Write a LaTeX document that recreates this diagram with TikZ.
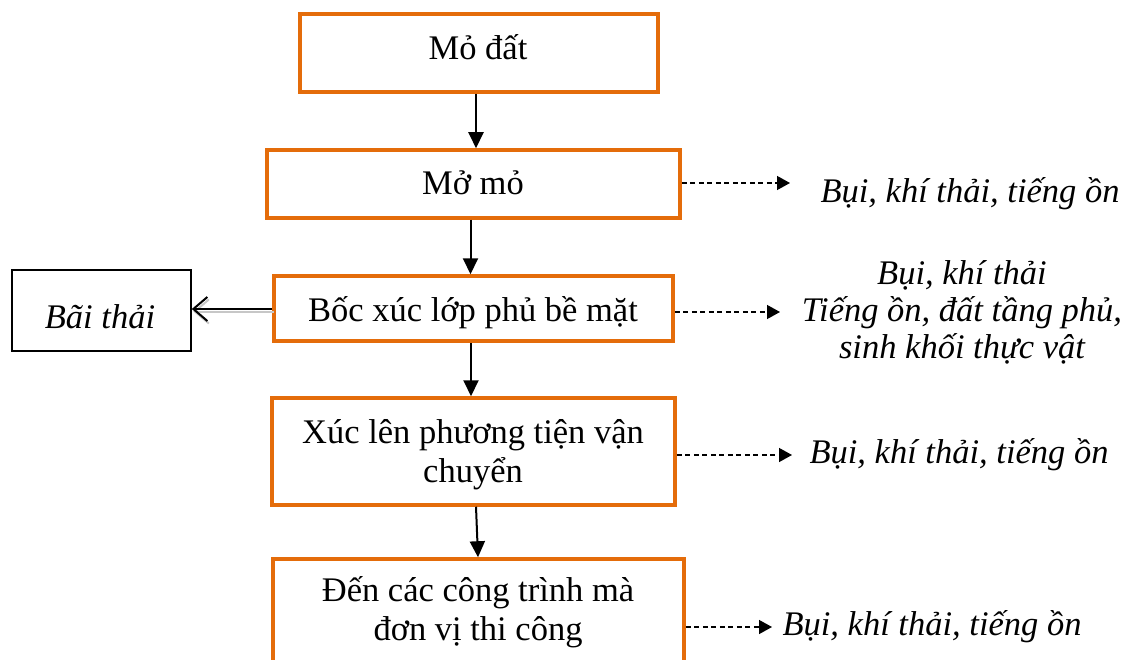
\documentclass[tikz,border=0pt]{standalone}
\usepackage{fontspec}
\setmainfont{Liberation Serif}
\usetikzlibrary{arrows.meta}
\definecolor{orng}{HTML}{E46C0A}
\begin{document}
\begin{tikzpicture}[x=1pt,y=-1pt,
  stepbox/.style={draw=orng, line width=3.5pt, inner sep=0pt},
  plainbox/.style={draw=black, line width=1.6pt, inner sep=0pt},
  txt/.style={font=\fontsize{34.5}{39}\selectfont, inner sep=0pt, anchor=base, align=center},
  itxt/.style={font=\fontsize{34.5}{36.7}\selectfont\itshape, inner sep=0pt, anchor=base, align=center},
  arr/.style={line width=2pt, -{Triangle[length=16pt,width=15pt]}},
  darr/.style={line width=1.4pt, dash pattern=on 5pt off 3.5pt, -{Triangle[length=13pt,width=14pt]}},
  barb/.style={line width=2pt, -{Straight Barb[length=14pt,width=24pt]}},
]
\useasboundingbox (0,0) rectangle (1123,660);
\clip (0,0) rectangle (1123,660);

% boxes
\node[stepbox, minimum width=358pt, minimum height=78pt] (b1) at (479,53) {};
\node[stepbox, minimum width=413pt, minimum height=68pt] (b2) at (473.5,184) {};
\node[stepbox, minimum width=399pt, minimum height=65pt] (b3) at (473.5,308.5) {};
\node[plainbox, minimum width=179pt, minimum height=81pt] (bt) at (101.5,310.5) {};
\node[stepbox, minimum width=403pt, minimum height=107pt] (b4) at (473.5,451.5) {};
\node[stepbox, minimum width=411pt, minimum height=110pt] (b5) at (478.5,614) {};

% box texts (anchor=base is the baseline of the last line)
\node[txt] (t1) at (478,60) {Mỏ đất};
\node[txt] (t2) at (473,195) {Mở mỏ};
\node[txt] (t3) at (473,321) {Bốc xúc lớp phủ bề mặt};
\node[itxt] (tt) at (100,328) {Bãi thải};
\node[txt] (t4) at (473,482) {Xúc lên phương tiện vận\\chuyển};
\node[txt] (t5) at (478,640) {Đến các công trình mà\\đơn vị thi công};

% right labels
\node[itxt] (r2) at (970,203) {Bụi, khí thải, tiếng ồn};
\node[itxt] (r3) at (962,358) {Bụi, khí thải\\Tiếng ồn, đất tầng phủ,\\sinh khối thực vật};
\node[itxt] (r4) at (959,463) {Bụi, khí thải, tiếng ồn};
\node[itxt] (r5) at (932,635) {Bụi, khí thải, tiếng ồn};

% free ends of dashed arrows
\coordinate (e2) at (790,183);
\coordinate (e3) at (780,312);
\coordinate (e4) at (792,455);
\coordinate (e5) at (772,627);

% main flow
\draw[arr] (b1.south -| 476,0) -- (b2.north -| 476,0);
\draw[arr] (b2.south -| 470.5,0) -- (b3.north -| 470.5,0);
\draw[arr] (b3.south -| 471,0) -- (b4.north -| 471,0);
\draw[arr] (b4.south -| 476,0) -- (b5.north -| 478,0);

% to waste dump
\draw[barb, black!22, transform canvas={xshift=1.5pt,yshift=-2.5pt}] (b3.west |- 0,309) -- (bt.east |- 0,309);
\draw[barb] (b3.west |- 0,309) -- (bt.east |- 0,309);

% emissions
\draw[darr] (b2.east |- e2) -- (e2);
\draw[darr] (b3.east |- e3) -- (e3);
\draw[darr] (b4.east |- e4) -- (e4);
\draw[darr] (b5.east |- e5) -- (e5);
\end{tikzpicture}
\end{document}
